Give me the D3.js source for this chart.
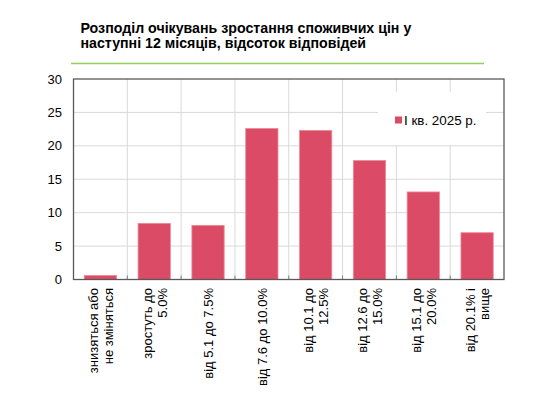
<!DOCTYPE html>
<html>
<head>
<meta charset="utf-8">
<script src="https://cdn.jsdelivr.net/npm/d3@7"></script>
<style>
  body { margin: 0; background: #fff; }
  text { font-family: "Liberation Sans", Arial, sans-serif; fill: #000; }
</style>
</head>
<body>
<svg></svg>
<script>
var width = 538,
    height = 411

// data
var categories = [
  ["знизяться або", "не зміняться"],
  ["зростуть до", "5.0%"],
  ["від 5.1 до 7.5%"],
  ["від 7.6 до 10.0%"],
  ["від 10.1 до", "12.5%"],
  ["від 12.6 до", "15.0%"],
  ["від 15.1 до", "20.0%"],
  ["від 20.1% і", "вище"]
]
var values = [0.6, 8.4, 8.1, 22.6, 22.3, 17.8, 13.1, 7.0]
var yTicks = [0, 5, 10, 15, 20, 25, 30]
var seriesName = "І кв. 2025 р."
var titleLines = ["Розподіл очікувань зростання споживчих цін у", "наступні 12 місяців, відсоток відповідей"]

var svg = d3.select("svg").attr("width", width).attr("height", height)

// plot area (note: "top" is reserved on window, so use p*)
var pLeft = 73.5, pRight = 504, pTop = 79, pBottom = 279.5

var x = d3.scaleBand()
  .domain(d3.range(categories.length))
  .range([pLeft, pRight])
  .paddingInner(0.4)
  .paddingOuter(0.2)

var y = d3.scaleLinear().domain([0, 30]).range([pBottom, pTop])

// title
svg.append("g").selectAll("text")
  .data(titleLines)
  .enter().append("text")
  .attr("x", 80.5)
  .attr("y", function(d, i) { return 32.5 + i * 15 })
  .attr("font-size", 14.2)
  .attr("font-weight", "bold")
  .text(function(d) { return d })

svg.append("line")
  .attr("x1", 71).attr("x2", 484)
  .attr("y1", 63.5).attr("y2", 63.5)
  .attr("stroke", "#92cf5c").attr("stroke-width", 1.5)

// grid
svg.append("g").selectAll("line")
  .data(yTicks.slice(1, -1))
  .enter().append("line")
  .attr("x1", pLeft).attr("x2", pRight)
  .attr("y1", function(d) { return y(d) }).attr("y2", function(d) { return y(d) })
  .attr("stroke", "#d9d9d9")

var bounds = d3.range(1, categories.length).map(function(i) { return pLeft + i * x.step() })

svg.append("g").selectAll("line")
  .data(bounds)
  .enter().append("line")
  .attr("x1", function(d) { return d }).attr("x2", function(d) { return d })
  .attr("y1", pTop).attr("y2", pBottom)
  .attr("stroke", "#d9d9d9")

// legend box (covers grid)
svg.append("rect")
  .attr("x", 378).attr("y", 92)
  .attr("width", 108).attr("height", 53)
  .attr("fill", "#fff")

svg.append("rect")
  .attr("x", 395).attr("y", 116.5)
  .attr("width", 7).attr("height", 7)
  .attr("fill", "#dc4b66")

svg.append("text")
  .attr("x", 404).attr("y", 125)
  .attr("font-size", 13.4)
  .text(seriesName)

// bars
svg.append("g").selectAll("rect")
  .data(values)
  .enter().append("rect")
  .attr("x", function(d, i) { return x(i) })
  .attr("y", function(d) { return y(d) })
  .attr("width", x.bandwidth())
  .attr("height", function(d) { return pBottom - y(d) })
  .attr("fill", "#dc4b66")
  .attr("stroke", "#e98a99")
  .attr("stroke-width", 0.8)

// ticks along x axis, pointing in
svg.append("g").selectAll("line")
  .data(bounds)
  .enter().append("line")
  .attr("x1", function(d) { return d }).attr("x2", function(d) { return d })
  .attr("y1", pBottom - 4).attr("y2", pBottom)
  .attr("stroke", "#7f7f7f")

// frame
svg.append("rect")
  .attr("x", pLeft).attr("y", pTop)
  .attr("width", pRight - pLeft).attr("height", pBottom - pTop)
  .attr("fill", "none")
  .attr("stroke", "#595959")
  .attr("stroke-width", 1.3)

// y labels
svg.append("g").selectAll("text")
  .data(yTicks)
  .enter().append("text")
  .attr("x", 62)
  .attr("y", function(d) { return y(d) + 4.5 })
  .attr("text-anchor", "end")
  .attr("font-size", 13)
  .text(function(d) { return d })

// x labels, rotated
var lab = svg.append("g").selectAll("g")
  .data(categories)
  .enter().append("g")
  .attr("transform", function(d, i) {
    var cx = x(i) + x.bandwidth() / 2
    return "translate(" + cx + ",288) rotate(-90)"
  })

lab.selectAll("text")
  .data(function(d) { return d })
  .enter().append("text")
  .attr("text-anchor", "end")
  .attr("font-size", 13)
  .attr("x", 0)
  .attr("y", function(d, i, nodes) {
    var n = nodes.length
    return 5 + (i - (n - 1) / 2) * 14.8
  })
  .text(function(d) { return d })
</script>
</body>
</html>
